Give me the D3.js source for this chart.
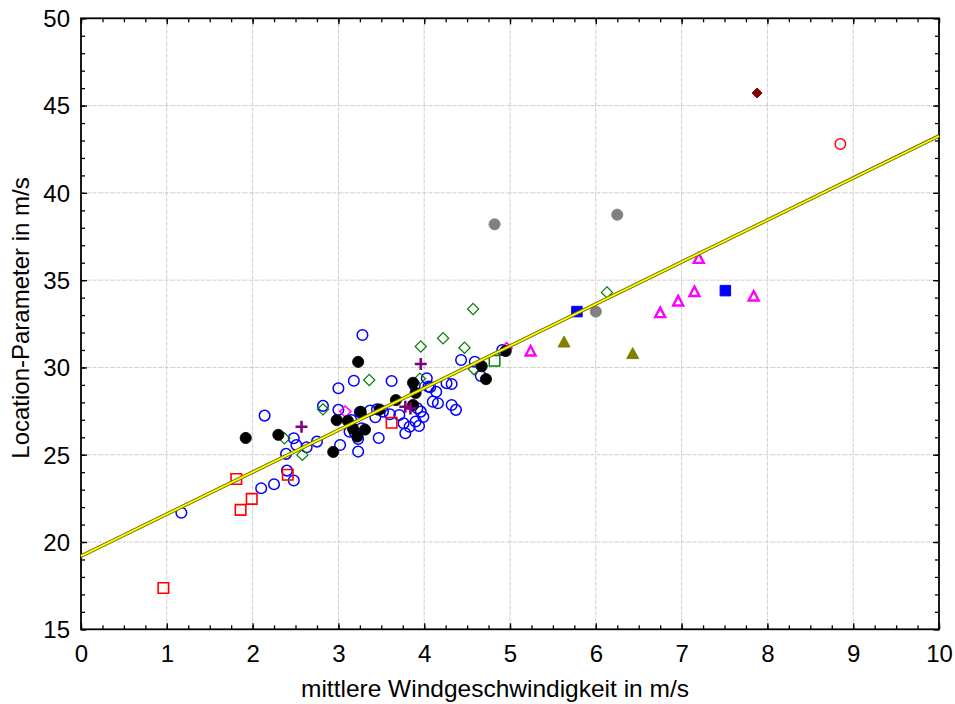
<!DOCTYPE html>
<html><head><meta charset="utf-8">
<script src="https://cdn.jsdelivr.net/npm/d3@7"></script>
<style>body{margin:0;background:#fff}svg{display:block}</style>
</head><body>
<svg id="c" width="955" height="704"></svg>
<script>
// ---- data ----
const blueCircles = [[1.17,21.68],[2.10,23.08],[2.25,23.31],[2.48,23.52],[2.40,24.09],[2.39,25.05],[2.51,25.56],[2.48,25.94],[2.14,27.24],[2.63,25.43],[2.75,25.75],[2.82,27.8],[3.00,27.57],[3.00,28.81],[3.28,31.86],[3.18,29.24],[3.62,29.22],[4.03,29.38],[4.05,28.9],[4.16,27.95],[4.26,29.1],[4.14,28.61],[3.92,27.66],[3.96,27.47],[3.76,26.8],[3.78,26.23],[3.90,26.9],[3.94,26.65],[3.47,25.96],[3.15,26.99],[3.27,26.52],[3.13,26.32],[3.23,25.9],[3.02,25.56],[3.23,25.18],[3.45,27.6],[3.37,27.53],[3.52,27.47],[3.60,27.32],[3.71,27.28],[4.32,27.85],[4.37,27.57],[4.10,28.04],[4.43,30.43],[4.59,30.33],[4.66,29.51],[4.91,31.0],[4.32,29.05],[3.25,27.44],[3.43,27.15],[3.83,26.6],[3.99,27.16],[3.89,28.96],[4.07,28.87],[3.19,26.27]];
const blackDots = [[1.92,25.96],[2.30,26.14],[3.23,30.32],[2.94,25.16],[2.98,26.98],[3.11,26.94],[3.26,27.46],[3.17,26.49],[3.22,26.04],[3.31,26.44],[3.48,27.59],[3.67,28.13],[3.87,27.85],[3.87,29.12],[3.90,28.54],[4.67,30.07],[4.72,29.33],[4.95,30.94]];
const redSquares = [[0.96,17.37],[1.81,23.61],[1.86,21.84],[1.99,22.47],[2.41,23.85],[3.62,26.83]];
const greenDiamonds = [[2.37,25.94],[2.58,24.99],[2.82,27.6],[3.36,29.28],[3.95,29.35],[3.96,31.2],[4.22,31.67],[4.47,31.13],[4.57,33.35],[4.58,29.9],[6.13,34.3]];
const purplePlus = [[2.57,26.6],[3.78,27.75],[3.84,27.65],[3.96,30.2]];
const magentaDiamonds = [[3.08,27.47],[4.96,31.1]];
const greenSquares = [[4.82,30.39]];
const magentaTriangles = [[5.24,30.9],[6.75,33.1],[6.96,33.77],[7.15,34.31],[7.20,36.21],[7.84,34.05]];
const oliveTriangles = [[5.63,31.42],[6.43,30.76]];
const blueSquares = [[5.78,33.2],[7.51,34.4]];
const greyDots = [[4.82,38.2],[6.0,33.2],[6.25,38.75]];
const darkRedDiamonds = [[7.88,45.72]];
const redCircles = [[8.85,42.8]];
const regressionX = [0,10];
const regressionY = [19.19,43.26];
const xTicks = [0,1,2,3,4,5,6,7,8,9,10];
const yTicks = [15,20,25,30,35,40,45,50];
const xTitle = "mittlere Windgeschwindigkeit in m/s";
const yTitle = "Location-Parameter in m/s";

// ---- layout ----
const L=81, R=939, T=18.3, B=629.3;
const svg = d3.select("#c");
const x = d3.scaleLinear().domain([0,10]).range([L,R]);
const y = d3.scaleLinear().domain([15,50]).range([B,T]);
const font = "Liberation Sans, Arial, sans-serif";

// grid
const g = svg.append("g");
g.selectAll(".gx").data(xTicks.slice(1,-1)).join("line")
  .attr("x1",d=>x(d)).attr("x2",d=>x(d)).attr("y1",T).attr("y2",B)
  .attr("stroke","#c8c8c8").attr("stroke-width",1).attr("stroke-dasharray","3,1,1,1");
g.selectAll(".gy").data(yTicks.slice(1,-1)).join("line")
  .attr("y1",d=>y(d)).attr("y2",d=>y(d)).attr("x1",L).attr("x2",R)
  .attr("stroke","#c8c8c8").attr("stroke-width",1).attr("stroke-dasharray","3,1,1,1");

// axes with inward ticks
const xMinor = d3.range(0,10.001,0.25);
const yMinor = d3.range(15,50.001,1);
function ax(gen, tr, ticks, len, labels){
  const a = svg.append("g").attr("transform",tr)
   .call(gen.tickValues(ticks).tickSizeInner(len).tickSizeOuter(0).tickFormat(labels?d3.format("d"):""));
  a.select(".domain").remove();
  a.selectAll("line").attr("stroke","#000").attr("stroke-width",1.3);
  a.selectAll("text").attr("font-family",font).attr("font-size",24).attr("fill","#000");
  return a;
}
// bottom
ax(d3.axisBottom(x), `translate(0,${B})`, xMinor, -4, false);
const xa = ax(d3.axisBottom(x), `translate(0,${B})`, xTicks, -6, true);
xa.selectAll("text").attr("y",16).attr("dy","0.71em");
// top
ax(d3.axisTop(x), `translate(0,${T})`, xMinor, -4, false);
ax(d3.axisTop(x), `translate(0,${T})`, xTicks, -6, false);
// left
ax(d3.axisLeft(y), `translate(${L},0)`, yMinor, -4, false);
const ya = ax(d3.axisLeft(y), `translate(${L},0)`, yTicks, -6, true);
ya.selectAll("text").attr("x",-11).attr("dy","0.35em");
// right
ax(d3.axisRight(y), `translate(${R},0)`, yMinor, -4, false);
ax(d3.axisRight(y), `translate(${R},0)`, yTicks, -6, false);

// frame
svg.append("rect").attr("x",L).attr("y",T).attr("width",R-L).attr("height",B-T)
  .attr("fill","none").attr("stroke","#000").attr("stroke-width",1.8);

// titles
svg.append("text").attr("x",495).attr("y",697).attr("text-anchor","middle")
  .attr("font-family",font).attr("font-size",24.5).text(xTitle);
svg.append("text").attr("transform",`translate(29,318) rotate(-90)`).attr("text-anchor","middle")
  .attr("font-family",font).attr("font-size",24).text(yTitle);

// points
const pts = svg.append("g");
const diamond = r => `M0,${-r}L${r},0L0,${r}L${-r},0Z`;
const tri = (w,h) => `M0,${-h*0.6}L${w/2},${h*0.4}L${-w/2},${h*0.4}Z`;
function layerPath(data, pathStr, fill, stroke, sw){
  pts.append("g").selectAll("path").data(data).join("path")
    .attr("transform",d=>`translate(${x(d[0])},${y(d[1])})`)
    .attr("d",pathStr).attr("fill",fill).attr("stroke",stroke).attr("stroke-width",sw)
    .attr("stroke-linejoin","miter");
}
const circ = r => d3.symbol().type(d3.symbolCircle).size(Math.PI*r*r)();
const sq = s => `M${-s/2},${-s/2}h${s}v${s}h${-s}Z`;
layerPath(blueCircles, circ(5.3), "none", "#0000ff", 1.5);
layerPath(redSquares, sq(10.5), "none", "#ff0000", 1.6);
layerPath(greenDiamonds, diamond(5.6), "none", "#008000", 1.2);
layerPath(magentaDiamonds, diamond(5.6), "none", "#ff00ff", 1.5);
layerPath(greenSquares, sq(10.5), "none", "#008000", 1.5);
layerPath(blackDots, circ(5.6), "#000", "#000", 0.8);
layerPath(greyDots, circ(5.6), "#808080", "#808080", 0.8);
layerPath(magentaTriangles, tri(10,9.5), "none", "#ff00ff", 2.4);
layerPath(oliveTriangles, tri(12,11), "#808000", "#808000", 1);
layerPath(blueSquares, sq(10.5), "#0000ff", "#0000ff", 1);
layerPath(darkRedDiamonds, diamond(5), "#800000", "#800000", 1);
layerPath(redCircles, circ(5.3), "none", "#ff0000", 1.5);

// regression line
const lineData = regressionX.map((v,i)=>[v,regressionY[i]]);
const lg = d3.line().x(d=>x(d[0])).y(d=>y(d[1]));
svg.append("path").attr("d",lg(lineData)).attr("stroke","#6b6b00").attr("stroke-width",3.6).attr("fill","none");
svg.append("path").attr("d",lg(lineData)).attr("stroke","#ffff00").attr("stroke-width",1.8).attr("fill","none");

// purple plus markers on top
svg.append("g").selectAll("path").data(purplePlus).join("path")
  .attr("d",d=>`M${x(d[0])-6},${y(d[1])}h12M${x(d[0])},${y(d[1])-6}v12`)
  .attr("stroke","#800080").attr("stroke-width",2.6).attr("fill","none");
</script>
</body></html>
